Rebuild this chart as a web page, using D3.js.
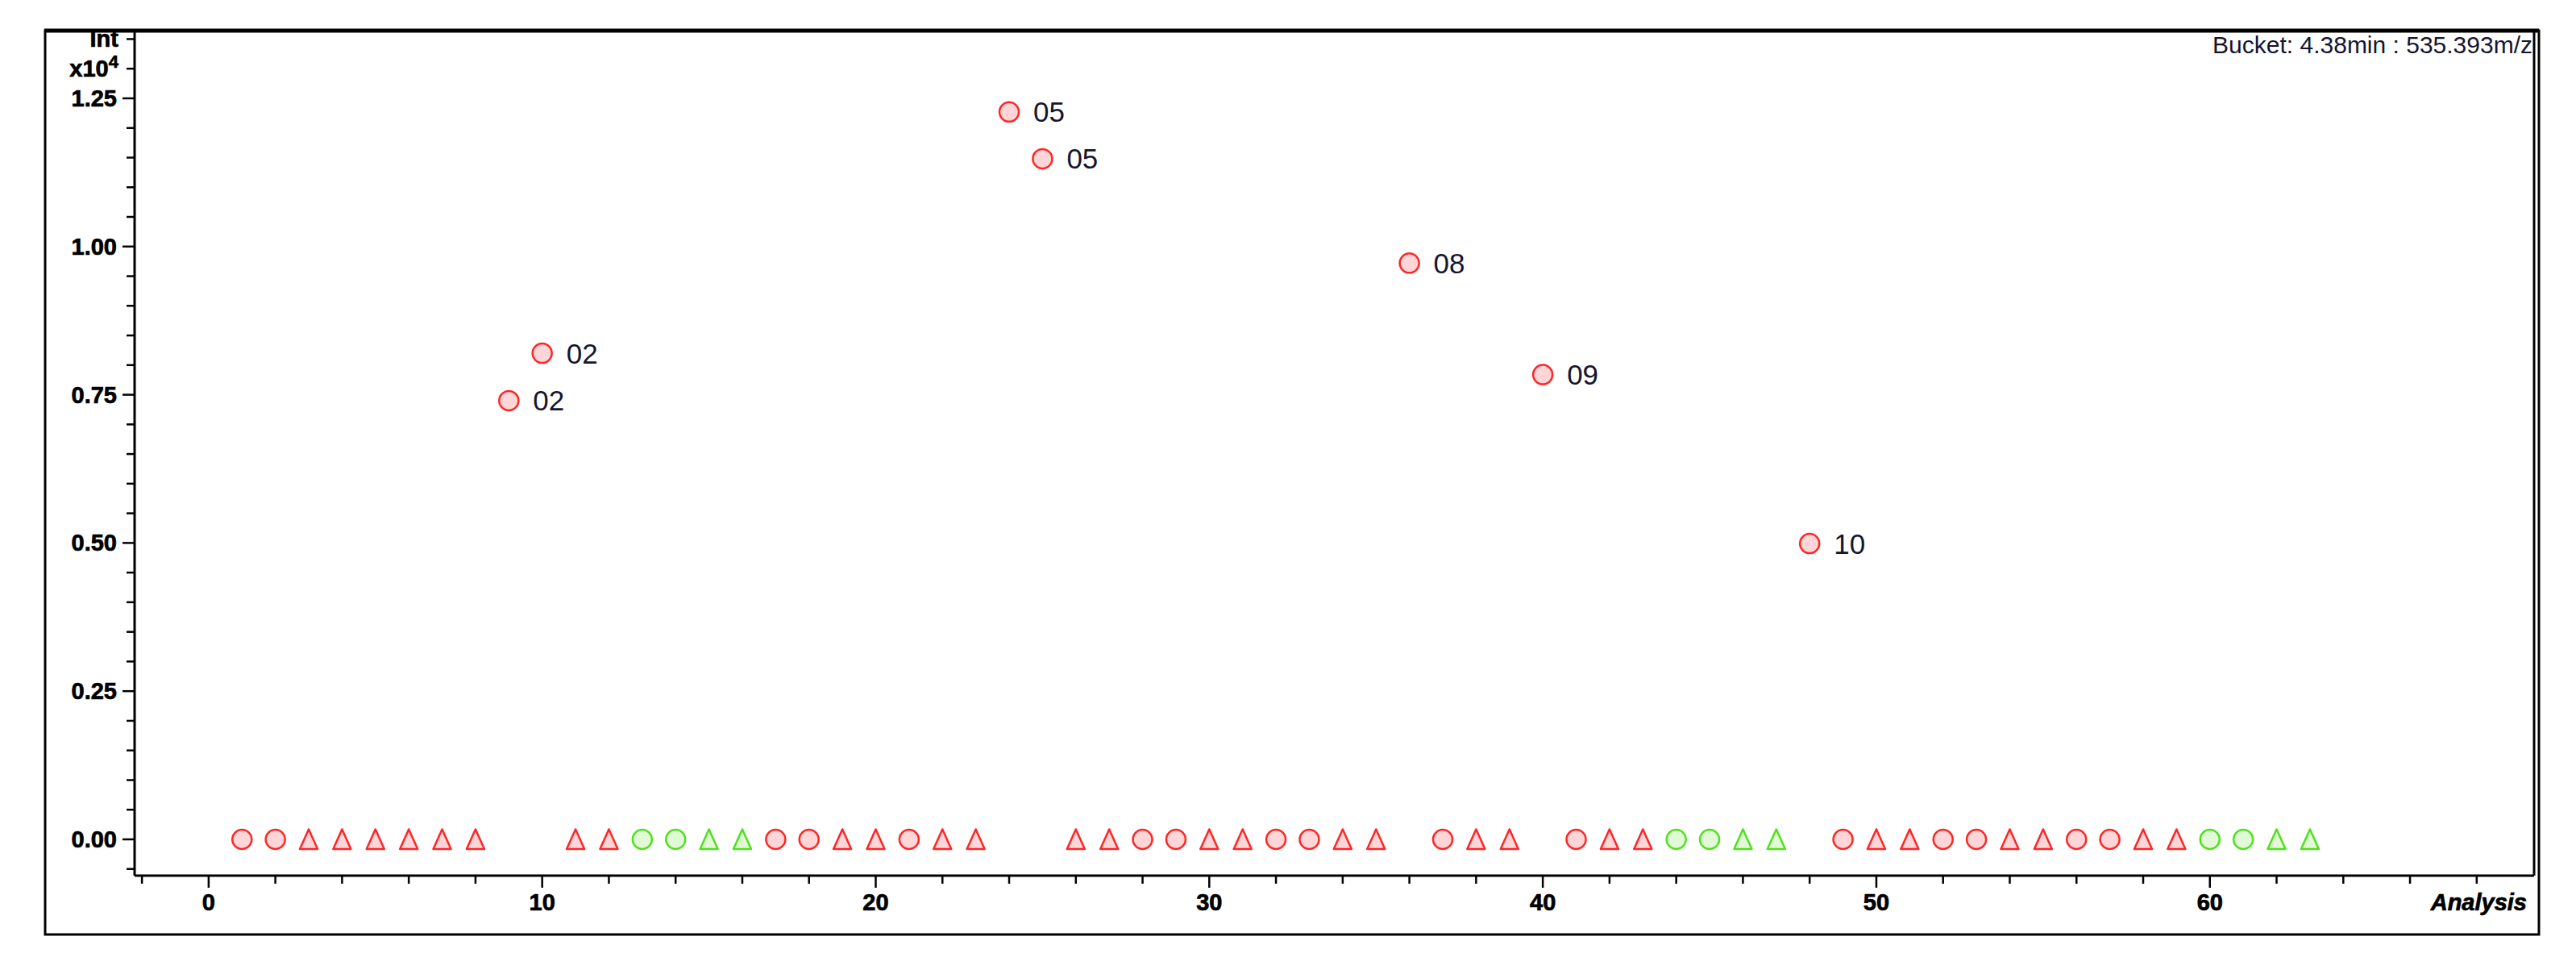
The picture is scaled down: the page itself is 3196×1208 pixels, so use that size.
<!DOCTYPE html>
<html><head><meta charset="utf-8">
<script src="https://cdn.jsdelivr.net/npm/d3@7"></script>
<style>html,body{margin:0;padding:0;background:#fff;}svg{display:block;}</style>
</head><body>
<script>
// ---- data ----
const analysisIndex = [1,2,3,4,5,6,7,8,9,10,11,12,13,14,15,16,17,18,19,20,21,22,23,24,25,26,27,28,29,30,31,32,33,34,35,36,37,38,39,40,41,42,43,44,45,46,47,48,49,50,51,52,53,54,55,56,57,58,59,60,61,62,63];
const intensity = [0,0,0,0,0,0,0,0,7400,8200,0,0,0,0,0,0,0,0,0,0,0,0,0,12270,11480,0,0,0,0,0,0,0,0,0,0,9720,0,0,0,7840,0,0,0,0,0,0,0,4990,0,0,0,0,0,0,0,0,0,0,0,0,0,0,0];
const markerShape = ["c","c","t","t","t","t","t","t","c","c","t","t","c","c","t","t","c","c","t","t","c","t","t","c","c","t","t","c","c","t","t","c","c","t","t","c","c","t","t","c","c","t","t","c","c","t","t","c","c","t","t","c","c","t","t","c","c","t","t","c","c","t","t"];
const sampleGroup = ["r","r","r","r","r","r","r","r","r","r","r","r","g","g","g","g","r","r","r","r","r","r","r","r","r","r","r","r","r","r","r","r","r","r","r","r","r","r","r","r","r","r","r","g","g","g","g","r","r","r","r","r","r","r","r","r","r","r","r","g","g","g","g"];
const pointLabel = {9:"02",10:"02",24:"05",25:"05",36:"08",40:"09",48:"10"};
const xTickValues = [0,10,20,30,40,50,60];
const yTickValues = [0,2500,5000,7500,10000,12500];
const yTickLabels = ["0.00","0.25","0.50","0.75","1.00","1.25"];
const headerText = "Bucket: 4.38min : 535.393m/z";
const xAxisTitle = "Analysis";

// ---- layout ----
const W = 3196, H = 1208;
const plot = {left:167, right:3144, top:38, bottom:1086};
const svg = d3.select("body").append("svg").attr("width",W).attr("height",H);

const x = d3.scaleLinear().domain([-2.22, 69.72]).range([plot.left, plot.right]);
const y = d3.scaleLinear().domain([-612, 13642]).range([plot.bottom, plot.top]);

// outer frame
svg.append("rect").attr("x",56).attr("y",38).attr("width",3094).attr("height",1121)
  .attr("fill","none").attr("stroke","#000").attr("stroke-width",3);
svg.append("line").attr("x1",55).attr("x2",3150).attr("y1",38).attr("y2",38).attr("stroke","#000").attr("stroke-width",5);
// plot right edge
svg.append("line").attr("x1",plot.right).attr("x2",plot.right).attr("y1",38).attr("y2",plot.bottom).attr("stroke","#000").attr("stroke-width",3);

const font = "'Liberation Sans', Arial, sans-serif";
const boldText = sel => sel.attr("font-family",font).attr("font-weight","bold").attr("font-size",29)
  .attr("stroke","#000").attr("stroke-width",0.7);

// y axis
const yMinor = d3.range(-500, 13501, 500);
const yAx = svg.append("g").attr("transform",`translate(${plot.left},0)`);
yAx.append("line").attr("x1",0).attr("x2",0).attr("y1",plot.top).attr("y2",plot.bottom).attr("stroke","#000").attr("stroke-width",3);
yAx.selectAll("line.tk").data(yMinor).join("line").attr("class","tk")
  .attr("x1", d => yTickValues.includes(d) ? -15 : -10).attr("x2",0)
  .attr("y1", d => y(d)).attr("y2", d => y(d)).attr("stroke","#000").attr("stroke-width",2.5);
yAx.selectAll("text").data(yTickValues).join("text")
  .attr("x",-22).attr("y", d => y(d)).attr("text-anchor","end").attr("dominant-baseline","central")
  .call(boldText).text((d,i) => yTickLabels[i]);
svg.append("text").attr("x",plot.left-20).attr("y",y(13500)).attr("text-anchor","end").attr("dominant-baseline","central")
  .call(boldText).text("Int");
const ex = svg.append("text").attr("x",plot.left-20).attr("y",y(13000)+10).attr("text-anchor","end")
  .call(boldText);
ex.append("tspan").text("x10");
ex.append("tspan").attr("dy",-11).attr("font-size",22).text("4");

// x axis
const xMinor = d3.range(-2, 69, 2);
const xAx = svg.append("g").attr("transform",`translate(0,${plot.bottom})`);
xAx.append("line").attr("x1",plot.left).attr("x2",plot.right).attr("y1",0).attr("y2",0).attr("stroke","#000").attr("stroke-width",3);
xAx.selectAll("line.tk").data(xMinor).join("line").attr("class","tk")
  .attr("x1", d => x(d)).attr("x2", d => x(d)).attr("y1",0)
  .attr("y2", d => xTickValues.includes(d) ? 15 : 10).attr("stroke","#000").attr("stroke-width",2.5);
xAx.selectAll("text").data(xTickValues).join("text")
  .attr("x", d => x(d)).attr("y",33).attr("text-anchor","middle").attr("dominant-baseline","central")
  .call(boldText).text(d => d);
svg.append("text").attr("x",3135).attr("y",plot.bottom+33).attr("text-anchor","end").attr("dominant-baseline","central")
  .call(boldText).attr("font-style","italic").text(xAxisTitle);

// header
svg.append("text").attr("x",3142).attr("y",66).attr("text-anchor","end")
  .attr("font-family",font).attr("font-size",30).attr("fill","#151530").text(headerText);

// points
const colors = {r:{stroke:"#ff2525", fill:"#ffd6d8"}, g:{stroke:"#4ee21a", fill:"#e2f9d8"}};
const pts = analysisIndex.map((a,i) => ({a, v:intensity[i], s:markerShape[i], g:sampleGroup[i], lab:pointLabel[a]}));
const triPath = "M0,-12.5L11,12L-11,12Z";
const g = svg.append("g");
g.selectAll("path").data(pts).join("path")
  .attr("transform", d => `translate(${x(d.a)},${y(d.v)})`)
  .attr("d", d => d.s === "c" ? d3.symbol(d3.symbolCircle, Math.PI*12*12)() : triPath)
  .attr("fill", d => colors[d.g].fill).attr("stroke", d => colors[d.g].stroke).attr("stroke-width",2.5)
  .attr("stroke-linejoin","round");
g.selectAll("text").data(pts.filter(d => d.lab)).join("text")
  .attr("x", d => x(d.a) + 30).attr("y", d => y(d.v)).attr("dominant-baseline","central")
  .attr("font-family",font).attr("font-size",35).attr("fill","#151530").text(d => d.lab);
</script>
</body></html>
